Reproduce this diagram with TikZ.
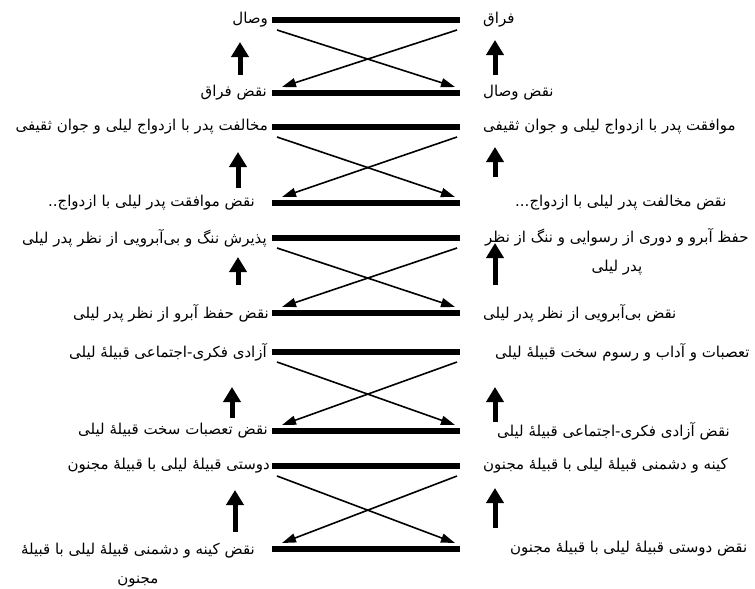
\documentclass[tikz,border=0pt]{standalone}
\usepackage{fontspec}
\newfontfamily\fa[Script=Arabic]{DejaVu Sans}
\TeXXeTstate=1
\usetikzlibrary{arrows.meta}

\begin{document}
\begin{tikzpicture}[x=1pt, y=-1pt,
    bar/.style={line width=5.5pt},
    cross/.style={line width=1.6pt, -{Triangle[length=14pt,width=9pt]}},
    uparrow/.style={line width=5pt, -{Triangle[length=15pt,width=17pt]}},
    lbl/.style={inner sep=0pt, font=\fa\fontsize{15}{29}\selectfont, align=center}]
    \useasboundingbox (0,0) rectangle (755,589);
    % bars and crossing arrows
    \foreach \g/\yt/\yb in {1/20/93, 2/127/203, 3/238/313, 4/352/431, 5/466/549} {
        \coordinate (tl\g) at (272,\yt);
        \coordinate (tr\g) at (460,\yt);
        \coordinate (bl\g) at (272,\yb);
        \coordinate (br\g) at (460,\yb);
        \draw[bar] (tl\g) -- (tr\g);
        \draw[bar] (bl\g) -- (br\g);
        \draw[cross] ([shift={(5,10)}]tl\g) -- ([shift={(-5,-6)}]br\g);
        \draw[cross] ([shift={(-3,10)}]tr\g) -- ([shift={(10,-6)}]bl\g);
    }
    % thick up arrows
    \foreach \g/\xl/\ylb/\ylt/\yrb/\yrt in {1/240/75/42/75/40, 2/238/188/152/177/147,
        3/238/285/257/285/243, 4/232/418/387/422/387, 5/235/532/490/528/488} {
        \coordinate (la\g) at (\xl,\ylb);
        \coordinate (lb\g) at (\xl,\ylt);
        \coordinate (ra\g) at (495,\yrb);
        \coordinate (rb\g) at (495,\yrt);
        \draw[uparrow] (la\g) -- (lb\g);
        \draw[uparrow] (ra\g) -- (rb\g);
    }
    % left column
    \node[lbl, anchor=east] (lt1) at (268,20) {\beginR وصال\endR};
    \node[lbl, anchor=east] (lb1) at (267,93) {\beginR نقض فراق\endR};
    \node[lbl, anchor=east] (lt2) at (268,127) {\beginR مخالفت پدر با ازدواج لیلی و جوان ثقیفی\endR};
    \node[lbl, anchor=east] (lb2) at (255,203) {\beginR نقض موافقت پدر لیلی با ازدواج..\endR};
    \node[lbl, anchor=east] (lt3) at (267,238) {\beginR پذیرش ننگ و بی‌آبرویی از نظر پدر لیلی\endR};
    \node[lbl, anchor=east] (lb3) at (269,313) {\beginR نقض حفظ آبرو از نظر پدر لیلی\endR};
    \node[lbl, anchor=east] (lt4) at (267,352) {\beginR آزادی فکری-اجتماعی قبیلهٔ لیلی\endR};
    \node[lbl, anchor=east] (lb4) at (268,431) {\beginR نقض تعصبات سخت قبیلهٔ لیلی\endR};
    \node[lbl, anchor=east] (lt5) at (270,466) {\beginR دوستی قبیلهٔ لیلی با قبیلهٔ مجنون\endR};
    \node[lbl, anchor=north east] (lb5) at (255,543) {\beginR نقض کینه و دشمنی قبیلهٔ لیلی با قبیلهٔ\endR\\ \beginR مجنون\endR};
    % right column
    \node[lbl, anchor=west] (rt1) at (483,20) {\beginR فراق\endR};
    \node[lbl, anchor=west] (rb1) at (483,93) {\beginR نقض وصال\endR};
    \node[lbl, anchor=west] (rt2) at (483,127) {\beginR موافقت پدر با ازدواج لیلی و جوان ثقیفی\endR};
    \node[lbl, anchor=west] (rb2) at (515,203) {\beginR نقض مخالفت پدر لیلی با ازدواج...\endR};
    \node[lbl, anchor=north west] (rt3) at (485,228) {\beginR حفظ آبرو و دوری از رسوایی و ننگ از نظر\endR\\ \beginR پدر لیلی\endR};
    \node[lbl, anchor=west] (rb3) at (483,313) {\beginR نقض بی‌آبرویی از نظر پدر لیلی\endR};
    \node[lbl, anchor=west] (rt4) at (495,352) {\beginR تعصبات و آداب و رسوم سخت قبیلهٔ لیلی\endR};
    \node[lbl, anchor=west] (rb4) at (497,431) {\beginR نقض آزادی فکری-اجتماعی قبیلهٔ لیلی\endR};
    \node[lbl, anchor=west] (rt5) at (483,466) {\beginR کینه و دشمنی قبیلهٔ لیلی با قبیلهٔ مجنون\endR};
    \node[lbl, anchor=west] (rb5) at (510,549) {\beginR نقض دوستی قبیلهٔ لیلی با قبیلهٔ مجنون\endR};
\end{tikzpicture}
\end{document}
